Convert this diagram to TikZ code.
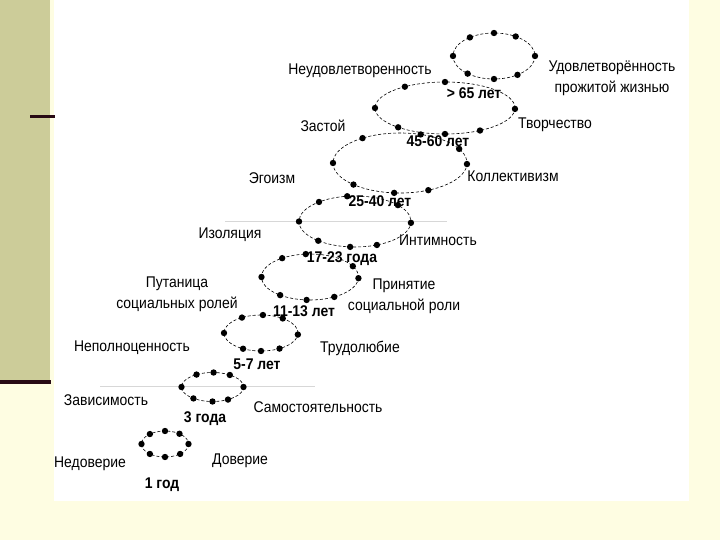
\documentclass[tikz,border=0pt]{standalone}
\usepackage{fontspec}
\setmainfont{Liberation Sans}[FakeStretch=0.9]
\definecolor{bgy}{RGB}{254,253,226}
\definecolor{olivestrip}{RGB}{204,204,153}
\definecolor{darkmaroon}{RGB}{40,10,20}
\definecolor{faintline}{RGB}{215,215,215}
\tikzset{
  lbl/.style={font=\fontsize{15.5}{21}\selectfont, inner sep=0pt, align=center},
  age/.style={font=\fontsize{15.5}{17}\selectfont\bfseries, inner sep=0pt},
  spiral/.style={line width=0.6pt, dash pattern=on 3pt off 2pt},
  ringdot/.style={fill=black},
}
\newcommand\stagering[5]{%
  \draw[spiral] (#1,#2) ellipse [x radius=#3, y radius=#4];
  \foreach \t in {#5} \fill[ringdot] ({#1+#3*cos(\t)},{#2-#4*sin(\t)}) circle [radius=3.2];
}
\begin{document}
\begin{tikzpicture}[x=1pt,y=-1pt]
\useasboundingbox (0,0) rectangle (720,540);
% background
\fill[bgy] (0,0) rectangle (720,540);
\fill[olivestrip] (0,0) rectangle (50,382);
\fill[white] (54,0) rectangle (689,501);
\draw[darkmaroon, line width=3] (30,117) -- (55,117);
\draw[darkmaroon, line width=3.5] (0,382) -- (51,382);
\draw[faintline, line width=0.8] (100,386) -- (315,386);
\draw[faintline, line width=0.8] (225,221) -- (447,221);
% rings
\stagering{165}{444}{23.5}{13}{0,52,90,130,180,230,270,310}
\stagering{212.5}{387}{31}{14.5}{0,56,88,121,180,232,270,300}
\stagering{261}{333}{37}{18}{355,54,87,121,180,241,270,300}
\stagering{310}{277}{48.5}{23}{357,28,95,125,180,232,266,300}
\stagering{355}{221.5}{56}{25.5}{357,40,98,130,180,229,265,293}
\stagering{400}{163}{67}{30}{358,28,72,124,180,226,265,295}
\stagering{445}{108}{70}{26}{358,90,125,180,228,270,300}
\stagering{494}{56}{41}{23}{0,58,90,126,180,230,270,305}
% labels
\node[lbl] (neud) at (360,71) {Неудовлетворенность};
\node[lbl] (udov) at (612,78.5) {Удовлетворённость\\прожитой жизнью};
\node[age] (a65) at (474,93) {> 65 лет};
\node[lbl] (zast) at (323,126) {Застой};
\node[lbl] (tvor) at (555,125) {Творчество};
\node[age] (a45) at (438,141) {45-60 лет};
\node[lbl] (egoi) at (272,178) {Эгоизм};
\node[lbl] (koll) at (513,176) {Коллективизм};
\node[age] (a25) at (380,201) {25-40 лет};
\node[lbl] (izol) at (230,235) {Изоляция};
\node[lbl] (inti) at (438,240) {Интимность};
\node[age] (a17) at (342,259) {17-23 года};
\node[lbl] (puta) at (177,294) {Путаница\\социальных ролей};
\node[lbl] (prin) at (404,296.5) {Принятие\\социальной роли};
\node[age] (a11) at (304,311) {11-13 лет};
\node[lbl] (nepo) at (132,348) {Неполноценность};
\node[lbl] (trud) at (360,348) {Трудолюбие};
\node[age] (a5) at (257,364) {5-7 лет};
\node[lbl] (zavi) at (106,400) {Зависимость};
\node[lbl] (samo) at (318,407) {Самостоятельность};
\node[age] (a3) at (205,419) {3 года};
\node[lbl] (nedo) at (90,464) {Недоверие};
\node[lbl] (dove) at (240,461) {Доверие};
\node[age] (a1) at (162,485) {1 год};
\end{tikzpicture}
\end{document}
